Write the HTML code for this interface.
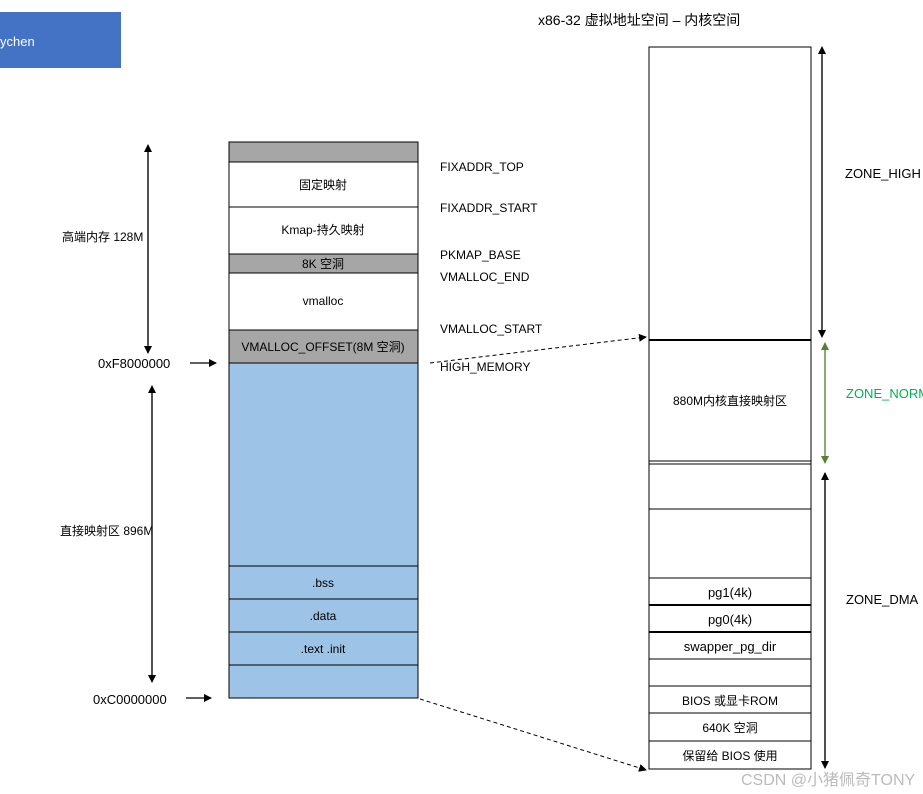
<!DOCTYPE html>
<html><head><meta charset="utf-8"><style>
html,body{margin:0;padding:0;background:#fff;width:923px;height:794px;overflow:hidden}
svg text{font-family:"Liberation Sans","Noto Sans CJK SC",sans-serif;fill:#000}
</style></head><body>
<svg width="923" height="794" viewBox="0 0 923 794" xmlns="http://www.w3.org/2000/svg">
<defs>
<marker id="a" markerWidth="8" markerHeight="8" refX="7" refY="4" orient="auto" markerUnits="userSpaceOnUse"><path d="M0,0 L8,4 L0,8 z" fill="#000"/></marker>
<marker id="g" markerWidth="8" markerHeight="8" refX="7" refY="4" orient="auto" markerUnits="userSpaceOnUse"><path d="M0,0 L8,4 L0,8 z" fill="#548235"/></marker>
</defs>
<rect x="0" y="12" width="121" height="56" fill="#4472C4"/>
<text x="0" y="46" font-size="13" style="fill:#fff">ychen</text>
<text x="538" y="25" font-size="14">x86-32 虚拟地址空间 – 内核空间</text>

<g stroke="#000" stroke-width="1">
<rect x="229" y="142" width="189" height="20" fill="#A6A6A6"/>
<rect x="229" y="162" width="189" height="45" fill="#fff"/>
<rect x="229" y="207" width="189" height="47" fill="#fff"/>
<rect x="229" y="254" width="189" height="19" fill="#A6A6A6"/>
<rect x="229" y="273" width="189" height="57" fill="#fff"/>
<rect x="229" y="330" width="189" height="33" fill="#A6A6A6"/>
<rect x="229" y="363" width="189" height="203" fill="#9DC3E6"/>
<rect x="229" y="566" width="189" height="33" fill="#9DC3E6"/>
<rect x="229" y="599" width="189" height="33" fill="#9DC3E6"/>
<rect x="229" y="632" width="189" height="33" fill="#9DC3E6"/>
<rect x="229" y="665" width="189" height="33" fill="#9DC3E6"/>
</g>
<g font-size="12" text-anchor="middle">
<text x="323" y="189">固定映射</text>
<text x="323" y="234">Kmap-持久映射</text>
<text x="323" y="268">8K 空洞</text>
<text x="323" y="305">vmalloc</text>
<text x="323" y="351">VMALLOC_OFFSET(8M 空洞)</text>
<text x="323" y="587">.bss</text>
<text x="323" y="620">.data</text>
<text x="323" y="653">.text .init</text>
</g>
<g font-size="12">
<text x="440" y="171">FIXADDR_TOP</text>
<text x="440" y="212">FIXADDR_START</text>
<text x="440" y="259">PKMAP_BASE</text>
<text x="440" y="281">VMALLOC_END</text>
<text x="440" y="333">VMALLOC_START</text>
<text x="440" y="371">HIGH_MEMORY</text>
<text x="62" y="241">高端内存 128M</text>
<text x="60" y="535">直接映射区 896M</text>
<text x="98" y="368" font-size="13">0xF8000000</text>
<text x="93" y="704" font-size="13">0xC0000000</text>
</g>
<g stroke="#000" stroke-width="1.2" fill="none">
<line x1="148" y1="345" x2="148" y2="145" marker-end="url(#a)"/>
<line x1="148" y1="150" x2="148" y2="353" marker-end="url(#a)"/>
<line x1="152" y1="676" x2="152" y2="386" marker-end="url(#a)"/>
<line x1="152" y1="390" x2="152" y2="682" marker-end="url(#a)"/>
<line x1="190" y1="363" x2="216" y2="363" marker-end="url(#a)"/>
<line x1="186" y1="698" x2="211" y2="698" marker-end="url(#a)"/>
</g>
<g stroke="#000" stroke-width="1" stroke-dasharray="4,3" fill="none">
<line x1="430" y1="363" x2="646" y2="337" marker-end="url(#a)"/>
<line x1="420" y1="699" x2="646" y2="770" marker-end="url(#a)"/>
</g>

<g stroke="#000" stroke-width="1" fill="#fff">
<rect x="649" y="47" width="162" height="722"/>
</g>
<g stroke="#000">
<line x1="649" y1="340" x2="811" y2="340" stroke-width="2"/>
<line x1="649" y1="461" x2="811" y2="461" stroke-width="1"/>
<line x1="649" y1="464" x2="811" y2="464" stroke-width="1"/>
<line x1="649" y1="509" x2="811" y2="509" stroke-width="1"/>
<line x1="649" y1="578" x2="811" y2="578" stroke-width="1"/>
<line x1="649" y1="605" x2="811" y2="605" stroke-width="2"/>
<line x1="649" y1="632" x2="811" y2="632" stroke-width="2"/>
<line x1="649" y1="659" x2="811" y2="659" stroke-width="1"/>
<line x1="649" y1="686" x2="811" y2="686" stroke-width="1"/>
<line x1="649" y1="713" x2="811" y2="713" stroke-width="1"/>
<line x1="649" y1="741" x2="811" y2="741" stroke-width="1"/>
</g>
<g font-size="12" text-anchor="middle">
<text x="730" y="405">880M内核直接映射区</text>
<text x="730" y="597" font-size="13">pg1(4k)</text>
<text x="730" y="624" font-size="13">pg0(4k)</text>
<text x="730" y="651" font-size="13">swapper_pg_dir</text>
<text x="730" y="705">BIOS 或显卡ROM</text>
<text x="730" y="732">640K 空洞</text>
<text x="730" y="760">保留给 BIOS 使用</text>
</g>
<g stroke-width="1.2" fill="none">
<line x1="822" y1="330" x2="822" y2="47" stroke="#000" marker-end="url(#a)"/>
<line x1="822" y1="55" x2="822" y2="337" stroke="#000" marker-end="url(#a)"/>
<line x1="825" y1="455" x2="825" y2="343" stroke="#548235" marker-end="url(#g)"/>
<line x1="825" y1="350" x2="825" y2="463" stroke="#548235" marker-end="url(#g)"/>
<line x1="825" y1="760" x2="825" y2="473" stroke="#000" marker-end="url(#a)"/>
<line x1="825" y1="480" x2="825" y2="768" stroke="#000" marker-end="url(#a)"/>
</g>
<g font-size="13">
<text x="845" y="178">ZONE_HIGH</text>
<text x="846" y="398" style="fill:#00B050">ZONE_NORMAL</text>
<text x="846" y="604">ZONE_DMA</text>
</g>
<text x="741" y="785" font-size="16" style="fill:#bbb">CSDN @小猪佩奇TONY</text>
</svg>
</body></html>
